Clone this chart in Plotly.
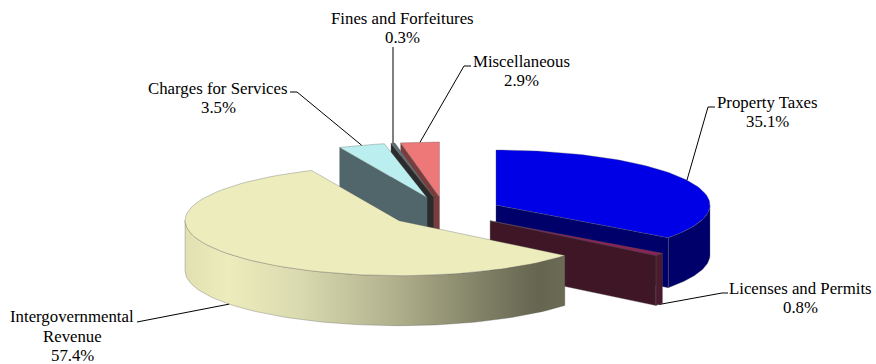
import numpy as np
import plotly.graph_objects as go

categories = ["Property Taxes", "Licenses and Permits", "Intergovernmental Revenue",
              "Charges for Services", "Fines and Forfeitures", "Miscellaneous"]
values = [35.1, 0.8, 57.4, 3.5, 0.3, 2.9]

label_lines = [["Property Taxes"], ["Licenses and Permits"], ["Intergovernmental", "Revenue"],
               ["Charges for Services"], ["Fines and Forfeitures"], ["Miscellaneous"]]
label_center_x = [767, 800, 72, 218, 402.5, 521.5]
label_first_y = [102, 288, 316.5, 88, 18, 61]
line_step = 19.7
# elbow of each leader line, then the end beside the label
leader_elbow = [(708, 107), (722, 293), (150, 320), (297, 92), (393, 47), (464, 66)]
leader_end = [(715, 107), (728, 293), (137, 322), (290, 92), (393, 47), (471, 66)]

CX, CY, RX, RY, THICK, EXPLODE = 444.7, 211.7, 214.0, 55.0, 50.0, 0.2685

top_colors = ["#0000E6", "#8A2252", "#ECECBC", "#BBEEEE", "#5E6E74", "#EE7777"]
wall_colors = ["#00006A", "#3E1626", "#ECECBC", "#50666A", "#2B2B2B", "#7C3C3C"]
outer_colors = ["#00006A", "#4A1A2E", None, None, None, None]

wall_scale = [[0.0, "#E0E0B2"], [0.11, "#ECECBC"], [0.3, "#DADAB0"], [0.57, "#ADAD8A"],
              [0.76, "#85856A"], [0.93, "#656550"], [1.0, "#6A6A55"]]

edges = np.radians(np.concatenate([[0], np.cumsum(values)]) / sum(values) * 360)
mids = (edges[:-1] + edges[1:]) / 2
apex = [(CX + EXPLODE * RX * np.sin(m), CY - EXPLODE * RY * np.cos(m)) for m in mids]


def point(i, t, dy=0.0):
    ax, ay = apex[i]
    return ax + RX * np.sin(t), ay - RY * np.cos(t) + dy


def arc(i, a, b, dy=0.0, n=80):
    t = np.linspace(a, b, n)
    ax, ay = apex[i]
    return ax + RX * np.sin(t), ay - RY * np.cos(t) + dy


fig = go.Figure()


def poly(xs, ys, color, name, edge="rgba(90,90,90,0.55)", width=0.6, gradient=None):
    xs = list(xs) + [xs[0]]
    ys = list(ys) + [ys[0]]
    kw = dict(fillgradient=gradient) if gradient else dict(fillcolor=color)
    fig.add_trace(go.Scatter(x=xs, y=ys, mode="lines", fill="toself", name=name,
                             line=dict(color=edge, width=width), hoverinfo="name",
                             showlegend=False, **kw))


def radial_wall(i, t):
    px, py = point(i, t)
    ax, ay = apex[i]
    poly([ax, px, px, ax], [ay, py, py + THICK, ay + THICK], wall_colors[i], categories[i])


def outer_wall(i, a, b, gradient=None):
    x1, y1 = arc(i, a, b)
    x2, y2 = arc(i, a, b, THICK)
    poly(list(x1) + list(x2[::-1]), list(y1) + list(y2[::-1]), outer_colors[i] or wall_colors[i],
         categories[i], gradient=gradient)


def top(i):
    x, y = arc(i, edges[i], edges[i + 1])
    ax, ay = apex[i]
    poly([ax] + list(x), [ay] + list(y), top_colors[i], categories[i])


# back-to-front painting order
for i in [5, 4, 3]:
    radial_wall(i, edges[i])
    top(i)

outer_wall(0, np.pi / 2, edges[1])
radial_wall(0, edges[1])
top(0)

outer_wall(1, edges[1], edges[2])
radial_wall(1, edges[2])
top(1)

outer_wall(2, edges[2], 1.5 * np.pi,
           gradient=go.scatter.Fillgradient(type="horizontal", colorscale=wall_scale))
top(2)

# leader lines start on the slice at its mid angle
for i, m in enumerate(mids):
    dy = THICK if np.cos(m) < 0 else 0.0
    sx, sy = point(i, m, dy)
    ex, ey = leader_elbow[i]
    lx, ly = leader_end[i]
    fig.add_trace(go.Scatter(x=[sx, ex, lx], y=[sy, ey, ly], mode="lines",
                             line=dict(color="#000000", width=1), hoverinfo="skip", showlegend=False))

font = dict(family="Liberation Serif, Times New Roman, serif", size=16.8, color="#000000")
for i, lines in enumerate(label_lines):
    for k, text in enumerate(lines + [f"{values[i]:.1f}%"]):
        fig.add_annotation(x=label_center_x[i], y=label_first_y[i] + k * line_step, text=text,
                           xref="x", yref="y", showarrow=False, xanchor="center", yanchor="middle",
                           font=font)

W, H = 876, 364
fig.update_layout(
    width=W, height=H, margin=dict(l=0, r=0, t=0, b=0),
    paper_bgcolor="#FFFFFF", plot_bgcolor="#FFFFFF", showlegend=False,
    xaxis=dict(range=[0, W], visible=False, fixedrange=True),
    yaxis=dict(range=[H, 0], visible=False, fixedrange=True),
)
fig.write_html("out.html", config=dict(displayModeBar=False),
               default_width=f"{W}px", default_height=f"{H}px",
               post_script="document.body.style.margin='0';document.documentElement.style.overflow='hidden';")
